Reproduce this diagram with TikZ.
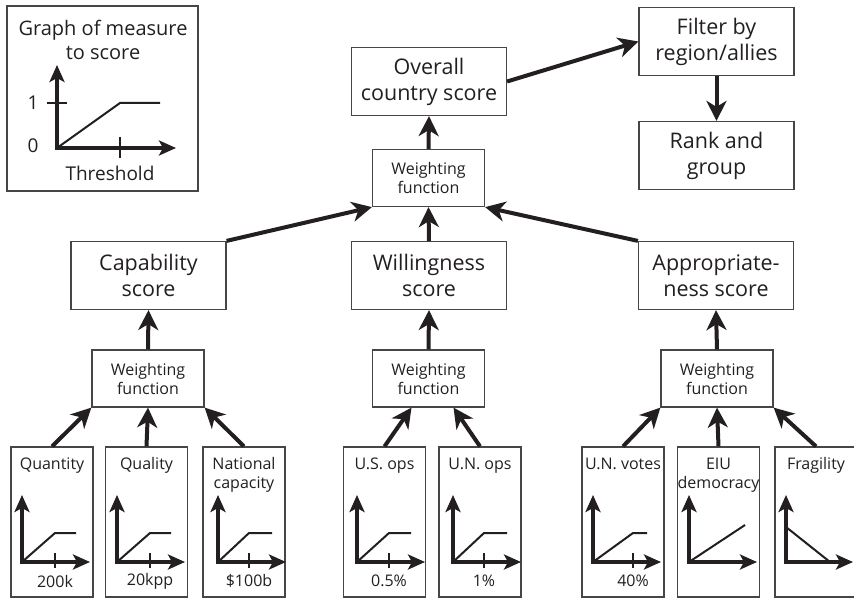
\documentclass[tikz,border=0pt]{standalone}
\usepackage{fontspec}
\setmainfont{Open Sans}
\usetikzlibrary{arrows.meta}
\definecolor{InkColor}{RGB}{35,31,32}
\definecolor{FrameColor}{RGB}{70,70,70}

\begin{document}
\begin{tikzpicture}[
    x=1pt, y=-1pt,
    every node/.style={text=InkColor},
    linktip/.tip={Stealth[length=20pt, width=20pt, inset=6pt]},
    axtip/.tip={Stealth[length=17pt, width=15pt, inset=4pt]},
    link/.style={draw=InkColor, line width=4pt, -linktip},
    axis/.style={draw=InkColor, line width=4pt, axtip-axtip},
    curve/.style={draw=InkColor, line width=2pt},
    tickmark/.style={draw=InkColor, line width=2pt},
    scorebox/.style={rectangle, draw=FrameColor, line width=1.2pt, minimum width=155pt, minimum height=68pt, align=center, font=\fontsize{21.5}{26}\selectfont},
    weightbox/.style={rectangle, draw=FrameColor, line width=1.2pt, minimum width=112pt, minimum height=57pt, align=center, font=\fontsize{16}{19}\selectfont},
    measure/.style={rectangle, draw=FrameColor, line width=1.2pt, minimum width=82pt, minimum height=150pt},
    title/.style={anchor=north, inner sep=0pt, align=center, font=\fontsize{16}{19}\selectfont},
    value/.style={inner sep=0pt, font=\fontsize{16}{19}\selectfont},
]
\useasboundingbox (0,0) rectangle (854,599);

% Legend
\node[rectangle, draw=FrameColor, line width=1.2pt, minimum width=191pt, minimum height=185pt] (legend) at (102.5, 98.5) {};
\node[align=center, font=\fontsize{20}{24}\selectfont] (legendtitle) at (103, 40) {Graph of measure\\to score};
\draw[axis] (57,65) -- (57,148) -- (176,148);
\draw[tickmark] (47,103) -- (67,103);
\draw[tickmark] (120,137) -- (120,158);
\draw[curve] (57,148) -- (120,103) -- (160,103);
\node[value, font=\fontsize{19}{24}\selectfont] (one) at (33,103) {1};
\node[value, font=\fontsize{19}{24}\selectfont] (zero) at (33,146) {0};
\node[value, font=\fontsize{19}{24}\selectfont] (threshold) at (110,173) {Threshold};

% Top row
\node[scorebox] (overall) at (429, 81.5) {Overall\\country score};
\node[scorebox] (filter) at (716.5, 41.5) {Filter by\\region/allies};
\node[scorebox] (rank) at (716.5, 155.5) {Rank and\\group};
\node[weightbox] (topwf) at (428.5, 178) {Weighting\\function};

\draw[link] (topwf.north) -- (overall.south);
\draw[link] (overall.east) -- (filter.west);
\draw[link] (filter.south) -- (rank.north);

% Scores
\node[scorebox] (cap) at (148.5, 275.5) {Capability\\score};
\node[scorebox] (will) at (429, 275.5) {Willingness\\score};
\node[scorebox] (approp) at (716, 275.5) {Appropriate-\\ness score};

\draw[link] (cap.north east) -- (topwf.south west);
\draw[link] (will.north) -- (topwf.south);
\draw[link] (approp.north west) -- (topwf.south east);

% Weighting functions
\node[weightbox] (capwf) at (148, 378.5) {Weighting\\function};
\node[weightbox] (willwf) at (428.5, 378.5) {Weighting\\function};
\node[weightbox] (appwf) at (717, 378.5) {Weighting\\function};

\draw[link] (capwf.north) -- (cap.south);
\draw[link] (willwf.north) -- (will.south);
\draw[link] (appwf.north) -- (approp.south);

% Measures
\node[measure] (qty) at (52, 522) {};
\node[measure] (qual) at (146.5, 522) {};
\node[measure] (natcap) at (244, 522) {};
\node[measure] (usops) at (384.5, 522) {};
\node[measure] (unops) at (480, 522) {};
\node[measure] (unvotes) at (623, 522) {};
\node[measure] (eiu) at (718.5, 522) {};
\node[measure] (frag) at (816, 522) {};

\node[title] (qtytitle) at ([yshift=-11pt]qty.north) {Quantity};
\node[title] (qualtitle) at ([yshift=-11pt]qual.north) {Quality};
\node[title] (natcaptitle) at ([yshift=-11pt]natcap.north) {National\\capacity};
\node[title] (usopstitle) at ([yshift=-11pt]usops.north) {U.S. ops};
\node[title] (unopstitle) at ([yshift=-11pt]unops.north) {U.N. ops};
\node[title] (unvotestitle) at ([yshift=-11pt]unvotes.north) {U.N. votes};
\node[title] (eiutitle) at ([yshift=-11pt]eiu.north) {EIU\\democracy};
\node[title] (fragtitle) at ([yshift=-11pt]frag.north) {Fragility};

\draw[link] (qty.north) -- (capwf.south west);
\draw[link] (qual.north) -- (capwf.south);
\draw[link] (natcap.north) -- (capwf.south east);
\draw[link] (usops.north) -- ([xshift=-17pt]willwf.south);
\draw[link] (unops.north) -- ([xshift=25pt]willwf.south);
\draw[link] (unvotes.north) -- (appwf.south west);
\draw[link] (eiu.north) -- (appwf.south);
\draw[link] (frag.north) -- (appwf.south east);

% Threshold graphs
\foreach \yx/\tk/\lab in {22/55/200k, 117/150/20kpp, 218/249/\$100b, 357/389/0.5\%, 453/484/1\%, 593/633/40\%} {
    \draw[axis] (\yx,495) -- (\yx,562) -- (\yx+68,562);
    \draw[tickmark] (\tk,553) -- (\tk,568);
    \draw[curve] (\yx,562) -- (\tk,533) -- (\yx+54,533);
    \node[value] at (\tk,581) {\lab};
}

% Linear and falling graphs
\draw[axis] (689,495) -- (689,562) -- (757,562);
\draw[curve] (689,562) -- (745,525);
\draw[axis] (786,495) -- (786,562) -- (853,562);
\draw[curve] (786,527) -- (830,562);

\end{tikzpicture}
\end{document}
